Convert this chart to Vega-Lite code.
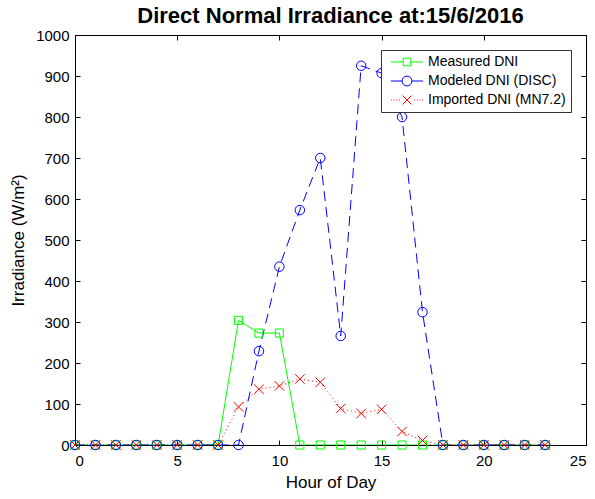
{
  "$schema": "https://vega.github.io/schema/vega-lite/v6.json",
  "width": 511,
  "height": 410,
  "autosize": "none",
  "padding": {"left": 75, "top": 35, "right": 9, "bottom": 54},
  "background": "white",
  "title": {"text": "Direct Normal Irradiance at:15/6/2016", "fontSize": 22, "font": "Liberation Sans", "fontWeight": "bold", "color": "black", "anchor": "middle", "offset": 0},
  "config": {
    "view": {"stroke": "black", "strokeWidth": 1},
    "font": "Liberation Sans",
    "axis": {"grid": false, "domainColor": "black", "tickColor": "black", "labelColor": "black", "titleColor": "black", "labelFontSize": 15, "titleFontSize": 17, "titleFontWeight": "normal", "tickSize": -5, "domainWidth": 1, "tickWidth": 1},
    "legend": {"orient": "top-right", "offset": 15, "strokeColor": "#333", "fillColor": "white", "padding": 5, "labelFontSize": 14, "labelColor": "black", "rowPadding": 5, "symbolSize": 80, "symbolStrokeWidth": 1, "symbolOffset": 14, "labelOffset": 14}
  },
  "data": {"values": [
    {"hour": 0, "series": "Measured DNI", "v": 0},
    {"hour": 1, "series": "Measured DNI", "v": 0},
    {"hour": 2, "series": "Measured DNI", "v": 0},
    {"hour": 3, "series": "Measured DNI", "v": 0},
    {"hour": 4, "series": "Measured DNI", "v": 0},
    {"hour": 5, "series": "Measured DNI", "v": 0},
    {"hour": 6, "series": "Measured DNI", "v": 0},
    {"hour": 7, "series": "Measured DNI", "v": 0},
    {"hour": 8, "series": "Measured DNI", "v": 304},
    {"hour": 9, "series": "Measured DNI", "v": 273},
    {"hour": 10, "series": "Measured DNI", "v": 273},
    {"hour": 11, "series": "Measured DNI", "v": 0},
    {"hour": 12, "series": "Measured DNI", "v": 0},
    {"hour": 13, "series": "Measured DNI", "v": 0},
    {"hour": 14, "series": "Measured DNI", "v": 0},
    {"hour": 15, "series": "Measured DNI", "v": 0},
    {"hour": 16, "series": "Measured DNI", "v": 0},
    {"hour": 17, "series": "Measured DNI", "v": 0},
    {"hour": 18, "series": "Measured DNI", "v": 0},
    {"hour": 19, "series": "Measured DNI", "v": 0},
    {"hour": 20, "series": "Measured DNI", "v": 0},
    {"hour": 21, "series": "Measured DNI", "v": 0},
    {"hour": 22, "series": "Measured DNI", "v": 0},
    {"hour": 23, "series": "Measured DNI", "v": 0},
    {"hour": 0, "series": "Modeled DNI (DISC)", "v": 0},
    {"hour": 1, "series": "Modeled DNI (DISC)", "v": 0},
    {"hour": 2, "series": "Modeled DNI (DISC)", "v": 0},
    {"hour": 3, "series": "Modeled DNI (DISC)", "v": 0},
    {"hour": 4, "series": "Modeled DNI (DISC)", "v": 0},
    {"hour": 5, "series": "Modeled DNI (DISC)", "v": 0},
    {"hour": 6, "series": "Modeled DNI (DISC)", "v": 0},
    {"hour": 7, "series": "Modeled DNI (DISC)", "v": 0},
    {"hour": 8, "series": "Modeled DNI (DISC)", "v": 0},
    {"hour": 9, "series": "Modeled DNI (DISC)", "v": 229},
    {"hour": 10, "series": "Modeled DNI (DISC)", "v": 435},
    {"hour": 11, "series": "Modeled DNI (DISC)", "v": 573},
    {"hour": 12, "series": "Modeled DNI (DISC)", "v": 700},
    {"hour": 13, "series": "Modeled DNI (DISC)", "v": 266},
    {"hour": 14, "series": "Modeled DNI (DISC)", "v": 925},
    {"hour": 15, "series": "Modeled DNI (DISC)", "v": 907},
    {"hour": 16, "series": "Modeled DNI (DISC)", "v": 800},
    {"hour": 17, "series": "Modeled DNI (DISC)", "v": 324},
    {"hour": 18, "series": "Modeled DNI (DISC)", "v": 0},
    {"hour": 19, "series": "Modeled DNI (DISC)", "v": 0},
    {"hour": 20, "series": "Modeled DNI (DISC)", "v": 0},
    {"hour": 21, "series": "Modeled DNI (DISC)", "v": 0},
    {"hour": 22, "series": "Modeled DNI (DISC)", "v": 0},
    {"hour": 23, "series": "Modeled DNI (DISC)", "v": 0},
    {"hour": 0, "series": "Imported DNI (MN7.2)", "v": 0},
    {"hour": 1, "series": "Imported DNI (MN7.2)", "v": 0},
    {"hour": 2, "series": "Imported DNI (MN7.2)", "v": 0},
    {"hour": 3, "series": "Imported DNI (MN7.2)", "v": 0},
    {"hour": 4, "series": "Imported DNI (MN7.2)", "v": 0},
    {"hour": 5, "series": "Imported DNI (MN7.2)", "v": 0},
    {"hour": 6, "series": "Imported DNI (MN7.2)", "v": 0},
    {"hour": 7, "series": "Imported DNI (MN7.2)", "v": 0},
    {"hour": 8, "series": "Imported DNI (MN7.2)", "v": 93},
    {"hour": 9, "series": "Imported DNI (MN7.2)", "v": 136},
    {"hour": 10, "series": "Imported DNI (MN7.2)", "v": 144},
    {"hour": 11, "series": "Imported DNI (MN7.2)", "v": 161},
    {"hour": 12, "series": "Imported DNI (MN7.2)", "v": 153},
    {"hour": 13, "series": "Imported DNI (MN7.2)", "v": 89},
    {"hour": 14, "series": "Imported DNI (MN7.2)", "v": 77},
    {"hour": 15, "series": "Imported DNI (MN7.2)", "v": 87},
    {"hour": 16, "series": "Imported DNI (MN7.2)", "v": 33},
    {"hour": 17, "series": "Imported DNI (MN7.2)", "v": 11},
    {"hour": 18, "series": "Imported DNI (MN7.2)", "v": 0},
    {"hour": 19, "series": "Imported DNI (MN7.2)", "v": 0},
    {"hour": 20, "series": "Imported DNI (MN7.2)", "v": 0},
    {"hour": 21, "series": "Imported DNI (MN7.2)", "v": 0},
    {"hour": 22, "series": "Imported DNI (MN7.2)", "v": 0},
    {"hour": 23, "series": "Imported DNI (MN7.2)", "v": 0}
  ]},
  "layer": [
    {
      "transform": [{"filter": {"field": "series", "equal": "Measured DNI"}}],
      "mark": {"type": "line", "strokeWidth": 1, "color": "#00ff00", "clip": true},
      "encoding": {
        "x": {"field": "hour", "type": "quantitative", "scale": {"domain": [0, 25], "nice": false, "zero": false}, "axis": {"orient": "bottom", "title": "Hour of Day", "values": [0, 5, 10, 15, 20, 25], "labelPadding": 13, "titlePadding": 6}},
        "y": {"field": "v", "type": "quantitative", "scale": {"domain": [0, 1000], "nice": false}, "axis": {"orient": "left", "title": "Irradiance (W/m²)", "format": "d", "values": [0, 100, 200, 300, 400, 500, 600, 700, 800, 900, 1000], "labelPadding": 11, "titlePadding": 8}},
        "order": {"field": "hour", "type": "quantitative"}
      }
    },
    {
      "transform": [{"filter": {"field": "series", "equal": "Modeled DNI (DISC)"}}],
      "mark": {"type": "line", "strokeWidth": 1, "color": "#0000ff", "strokeDash": [10, 6], "clip": true},
      "encoding": {
        "x": {"field": "hour", "type": "quantitative", "scale": {"domain": [0, 25], "nice": false, "zero": false}, "axis": null},
        "y": {"field": "v", "type": "quantitative", "scale": {"domain": [0, 1000], "nice": false}, "axis": null},
        "order": {"field": "hour", "type": "quantitative"}
      }
    },
    {
      "transform": [{"filter": {"field": "series", "equal": "Imported DNI (MN7.2)"}}],
      "mark": {"type": "line", "strokeWidth": 1, "color": "#ff0000", "strokeDash": [1, 3], "clip": true},
      "encoding": {
        "x": {"field": "hour", "type": "quantitative", "scale": {"domain": [0, 25], "nice": false, "zero": false}, "axis": null},
        "y": {"field": "v", "type": "quantitative", "scale": {"domain": [0, 1000], "nice": false}, "axis": null},
        "order": {"field": "hour", "type": "quantitative"}
      }
    },
    {
      "mark": {"type": "point", "filled": false, "strokeWidth": 1, "size": 90, "opacity": 1},
      "encoding": {
        "x": {"field": "hour", "type": "quantitative", "scale": {"domain": [0, 25], "nice": false, "zero": false}, "axis": {"orient": "top", "title": null, "labels": false, "values": [0, 5, 10, 15, 20, 25]}},
        "y": {"field": "v", "type": "quantitative", "scale": {"domain": [0, 1000], "nice": false}, "axis": {"orient": "right", "title": null, "labels": false, "values": [0, 100, 200, 300, 400, 500, 600, 700, 800, 900, 1000]}},
        "color": {"field": "series", "type": "nominal", "legend": null, "scale": {"domain": ["Measured DNI", "Modeled DNI (DISC)", "Imported DNI (MN7.2)"], "range": ["#00ff00", "#0000ff", "#ff0000"]}},
        "shape": {"field": "series", "type": "nominal", "legend": null, "scale": {"domain": ["Measured DNI", "Modeled DNI (DISC)", "Imported DNI (MN7.2)"], "range": ["M-0.85,-0.85H0.85V0.85H-0.85Z", "circle", "M-1,-1L1,1M1,-1L-1,1"]}}
      }
    },
    {
      "transform": [{"filter": {"field": "v", "lt": 0}}],
      "mark": {"type": "point", "filled": false, "strokeWidth": 1, "size": 80, "opacity": 1},
      "encoding": {
        "x": {"field": "hour", "type": "quantitative", "scale": {"domain": [0, 25], "nice": false, "zero": false}, "axis": null},
        "y": {"field": "v", "type": "quantitative", "scale": {"domain": [0, 1000], "nice": false}, "axis": null},
        "color": {"field": "series", "type": "nominal", "legend": {"title": null}, "scale": {"domain": ["Measured DNI", "Modeled DNI (DISC)", "Imported DNI (MN7.2)"], "range": ["#00ff00", "#0000ff", "#ff0000"]}},
        "shape": {"field": "series", "type": "nominal", "legend": {"title": null}, "scale": {"domain": ["Measured DNI", "Modeled DNI (DISC)", "Imported DNI (MN7.2)"], "range": ["M-3.6,0H-0.85M0.85,0H3.6M-0.85,-0.85H0.85V0.85H-0.85Z", "M-3.6,0H-1.1M1.1,0H3.6M1.1,0A1.1,1.1,0,1,1,-1.1,0A1.1,1.1,0,1,1,1.1,0", "M-3.6,0H-3.4M-3,0H-2.8M-2.4,0H-2.2M-1.8,0H-1.6M1.6,0H1.8M2.2,0H2.4M2.8,0H3M3.4,0H3.6M-1,-1L1,1M1,-1L-1,1"]}}
      }
    }
  ],
  "resolve": {"axis": {"x": "independent", "y": "independent"}, "scale": {"shape": "independent"}, "legend": {"color": "independent", "shape": "independent"}}
}
